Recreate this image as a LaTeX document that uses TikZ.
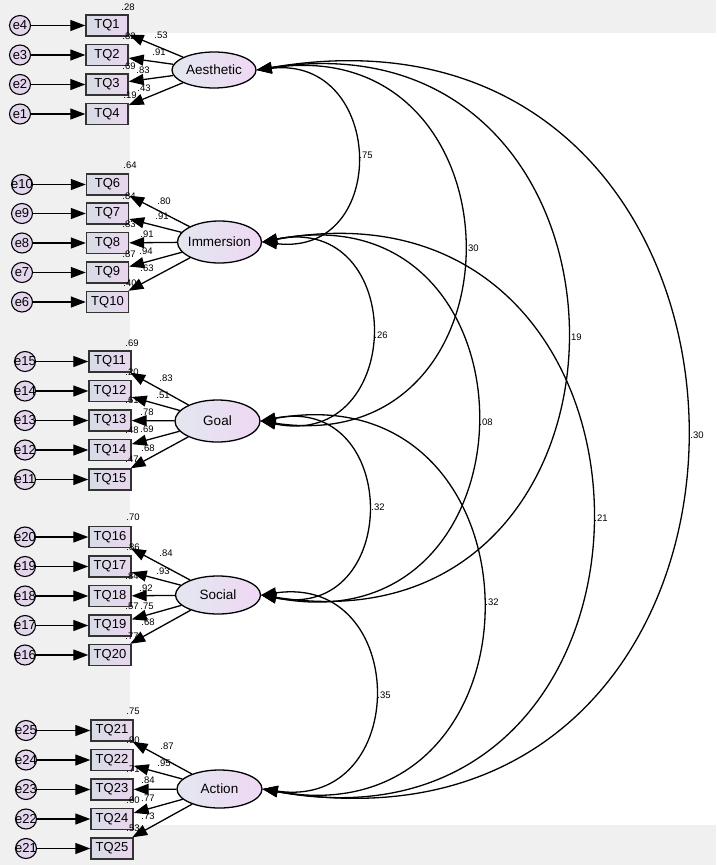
\documentclass[tikz,border=0pt]{standalone}
\usepackage{fontspec}
\setmainfont{Liberation Sans}
\usetikzlibrary{arrows.meta,shapes.geometric}
\definecolor{bgG}{HTML}{F0F0F0}
\definecolor{obsL}{HTML}{D7DCE6}
\definecolor{obsR}{HTML}{E9D6EE}
\definecolor{latL}{HTML}{E3E7EF}
\definecolor{latR}{HTML}{EED8F4}
\definecolor{errF}{HTML}{E3D5EC}
\begin{document}
\begin{tikzpicture}[x=1pt,y=-1pt,
  lat/.style={ellipse, draw=black, line width=1.3pt, minimum width=85pt, minimum height=38pt, inner sep=0pt, left color=latL, right color=latR, font=\fontsize{13.5}{15}\selectfont},
  obs/.style={rectangle, draw=black!80, line width=1.4pt, minimum width=42pt, minimum height=21pt, inner sep=0pt, left color=obsL, right color=obsR, font=\fontsize{13}{15}\selectfont},
  err/.style={ellipse, draw=black, line width=1.1pt, minimum width=21pt, minimum height=20pt, inner sep=0pt, fill=errF, font=\fontsize{13}{15}\selectfont},
  val/.style={font=\fontsize{9.5}{11}\selectfont, inner sep=0pt},
  arr/.style={-{Triangle[length=15pt,width=11pt]}, line width=1.3pt},
  cov/.style={{Triangle[length=15pt,width=11pt]}-{Triangle[length=15pt,width=11pt]}, line width=1.3pt},
]
\useasboundingbox (0,0) rectangle (716,865);
\fill[bgG] (0,0) rectangle (716,865);
\fill[white] (130,33) rectangle (716,825);

% latent variables
\node[lat, minimum width=84pt, minimum height=36pt] (aes) at (214,70) {\makebox[0pt]{Aesthetic}};
\node[lat, minimum width=84pt, minimum height=42pt] (imm) at (219.5,242) {\makebox[0pt]{Immersion}};
\node[lat, minimum height=42pt] (goal) at (217.5,421) {\makebox[0pt]{Goal}};
\node[lat] (soc) at (218,595) {\makebox[0pt]{Social}};
\node[lat] (act) at (219.5,789) {\makebox[0pt]{Action}};

% observed variables and errors
\foreach \n/\e/\y in {1/4/25.5, 2/3/55, 3/2/84.5, 4/1/114} {
  \node[obs] (tq\n) at (107,\y) {TQ\n};
  \node[err] (e\e) at (20,\y) {\makebox[0pt]{e\e}};
}
\foreach \n/\e/\y in {6/10/184.5, 7/9/213.5, 8/8/243, 9/7/272.5, 10/6/302} {
  \node[obs] (tq\n) at (107.5,\y) {TQ\n};
  \node[err] (e\e) at (22,\y) {\makebox[0pt]{e\e}};
}
\foreach \n/\e/\y in {11/15/361.5, 12/14/391, 13/13/420.5, 14/12/450, 15/11/479.5} {
  \node[obs] (tq\n) at (110,\y) {TQ\n};
  \node[err] (e\e) at (25,\y) {\makebox[0pt]{e\e}};
}
\foreach \n/\e/\y in {16/20/537, 17/19/566.5, 18/18/596, 19/17/625.5, 20/16/655} {
  \node[obs] (tq\n) at (110,\y) {TQ\n};
  \node[err] (e\e) at (25,\y) {\makebox[0pt]{e\e}};
}
\foreach \n/\e/\y in {21/25/730.5, 22/24/760, 23/23/789.5, 24/22/819, 25/21/848.5} {
  \node[obs] (tq\n) at (112,\y) {TQ\n};
  \node[err] (e\e) at (26,\y) {\makebox[0pt]{e\e}};
}

% coefficient labels
\foreach \x/\y/\t [count=\i] in {
  128/7/.28, 161/35/.53, 129/36/.82, 159/52/.91, 129/66/.69, 143/70/.83, 130/95/.19, 144/88/.43,
  130/165/.64, 164/201/.80, 129/196/.84, 162/216/.91, 129/224/.83, 147/234/.91, 129/254/.87, 146/251/.94, 147/268/.63, 130/283/.40,
  132/343/.69, 166/378/.83, 132/372/.20, 163/395/.51, 132/400/.61, 147/412/.78, 132/430/.48, 147/429/.69, 148/448/.68, 132/459/.47,
  133/517/.70, 166/553/.84, 133/547/.86, 163/571/.93, 132/576/.84, 146/588/.92, 132/606/.57, 147/606/.75, 148/622/.68, 132/636/.77,
  133/711/.75, 167/746/.87, 133/740/.90, 164/763/.95, 133/769/.71, 148/780/.84, 133/800/.60, 148/798/.77, 148/816/.73, 133/828/.53}
  \node[val] (lab\i) at (\x,\y) {\t};

\foreach \x/\y/\t [count=\i] in {
  366/155/.75, 472/248/.30, 575/337/.19, 697/435/.30, 381/335/.26,
  486/422/.08, 601/518/.21, 378/507/.32, 492/602/.32, 384/695/.35}
  \node[val] (cl\i) at (\x,\y) {\t};

% error arrows
\foreach \n/\e in {1/4,2/3,3/2,4/1,6/10,7/9,8/8,9/7,10/6,11/15,12/14,13/13,14/12,15/11,
  16/20,17/19,18/18,19/17,20/16,21/25,22/24,23/23,24/22,25/21}
  \draw[arr] (e\e) -- (tq\n);

% loadings
\foreach \n in {1,...,4} \draw[arr] (aes) -- (tq\n);
\foreach \n in {6,...,10} \draw[arr] (imm) -- (tq\n);
\foreach \n in {11,...,15} \draw[arr] (goal) -- (tq\n);
\foreach \n in {16,...,20} \draw[arr] (soc) -- (tq\n);
\foreach \n in {21,...,25} \draw[arr] (act) -- (tq\n);

% covariances
\draw[cov] (aes.east) .. controls +(128.7,-14.9) and +(128.7,14.9) .. (imm.east);
\draw[cov] (aes.east) .. controls +(272,-41.1) and +(272,41.1) .. (goal.east);
\draw[cov] (aes.east) .. controls +(409.3,-64.4) and +(409.3,64.4) .. (soc.east);
\draw[cov] (aes.east) .. controls +(568,-96.9) and +(568,96.9) .. (act.east);
\draw[cov] (imm.east) .. controls +(146,-29.7) and +(146,29.7) .. (goal.east);
\draw[cov] (imm.east) .. controls +(286,-56.1) and +(286,56.1) .. (soc.east);
\draw[cov] (imm.east) .. controls +(438,-80.7) and +(438,80.7) .. (act.east);
\draw[cov] (goal.east) .. controls +(141.3,-28.1) and +(141.3,28.1) .. (soc.east);
\draw[cov] (goal.east) .. controls +(293.3,-52.7) and +(293.3,52.7) .. (act.east);
\draw[cov] (soc.east) .. controls +(149.3,-21.5) and +(149.3,21.5) .. (act.east);
\end{tikzpicture}
\end{document}
